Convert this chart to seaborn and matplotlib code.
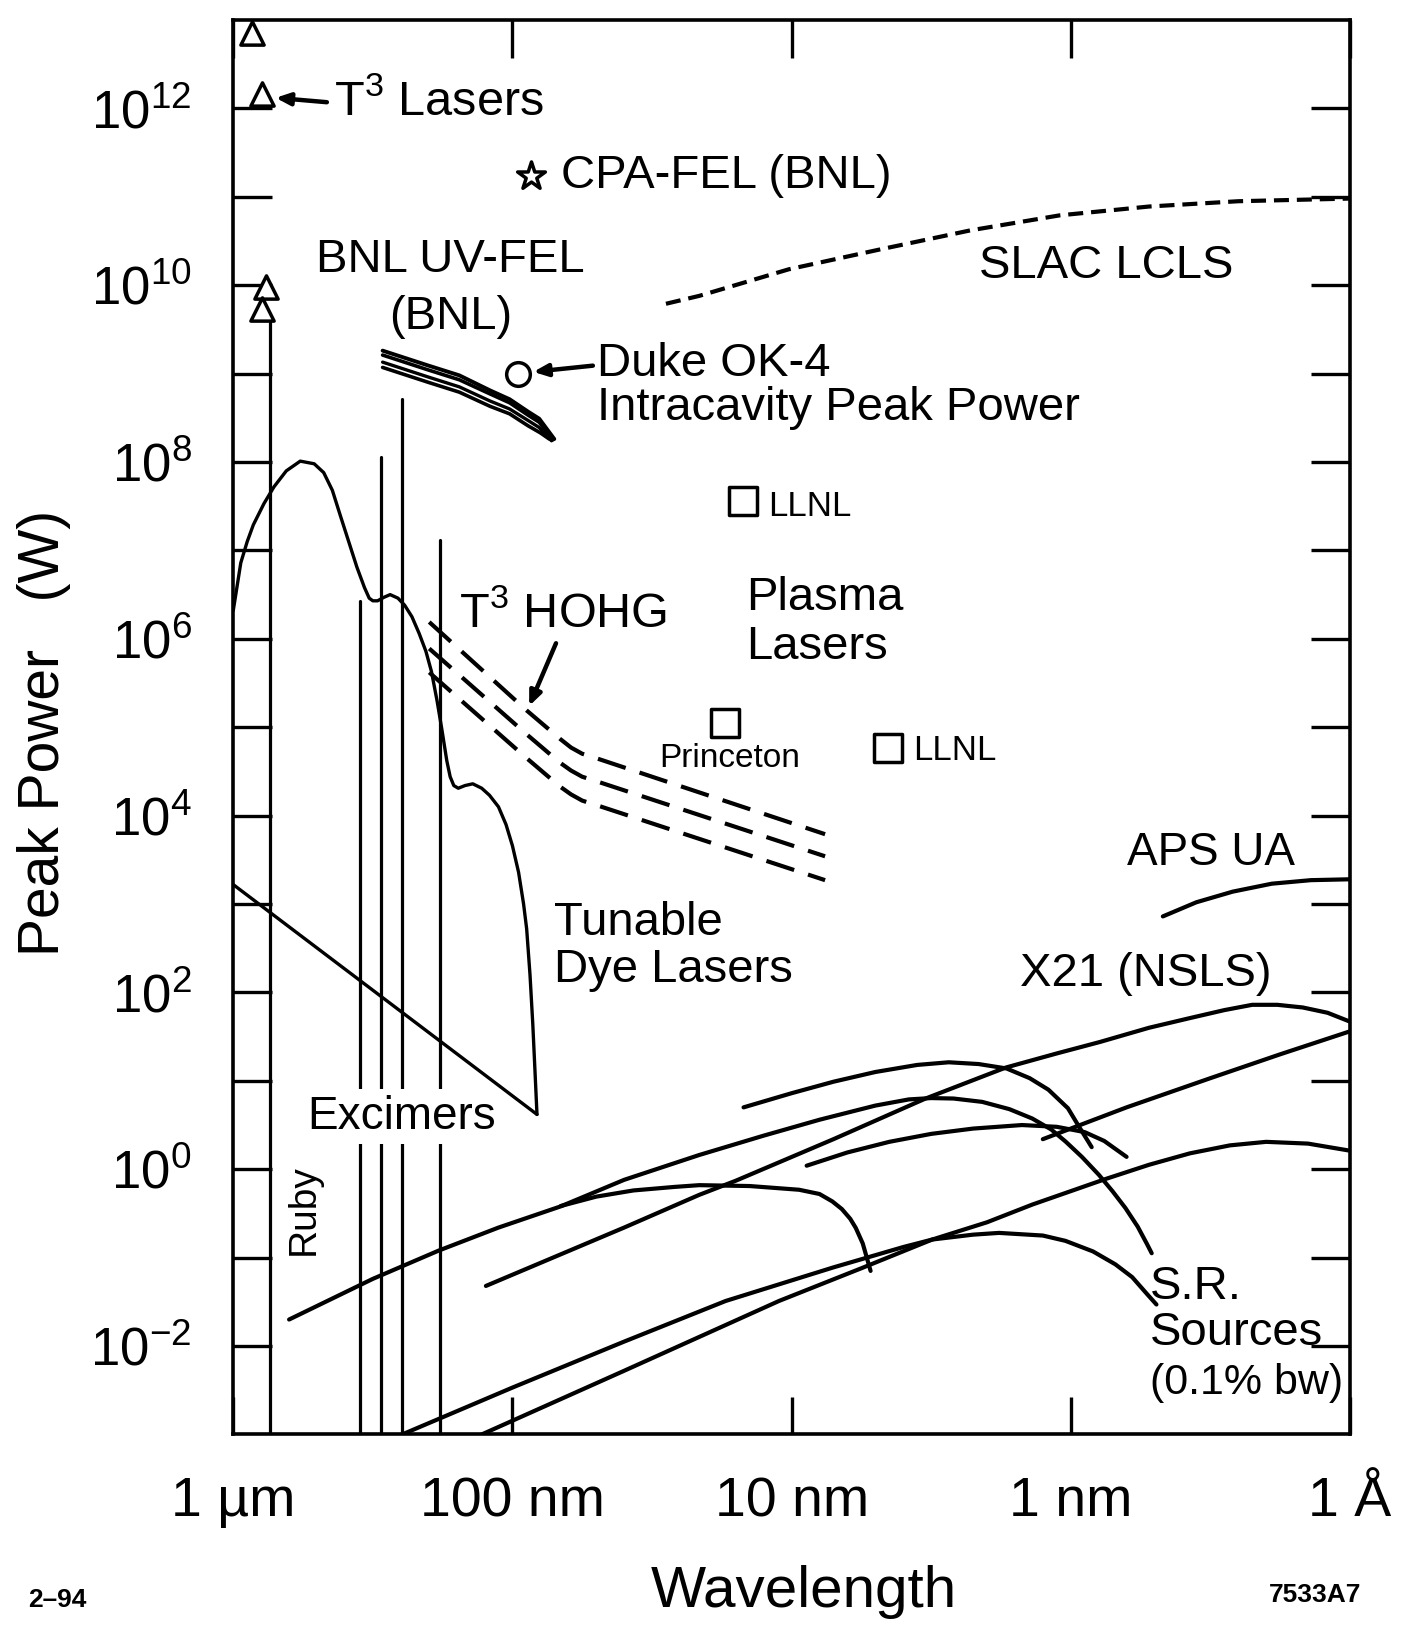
import numpy as np
import pandas as pd
import matplotlib
matplotlib.use("Agg")
import matplotlib.pyplot as plt
from matplotlib.ticker import FixedLocator, NullFormatter, NullLocator
import seaborn as sns

# ---------------- data (log10 of wavelength in nm, log10 of peak power in W) ----------------
# Tunable dye lasers envelope
dye_log_wl = [3.0, 2.985, 2.973, 2.95, 2.928, 2.89, 2.854, 2.81, 2.76, 2.71, 2.676, 2.645, 2.617,
              2.557, 2.53, 2.513, 2.50, 2.483, 2.46, 2.438, 2.41, 2.386, 2.36, 2.334, 2.31, 2.29,
              2.27, 2.253, 2.235, 2.223, 2.21, 2.194, 2.17, 2.142, 2.11, 2.082, 2.05, 2.023, 2.0,
              1.978, 1.96, 1.949, 1.937, 1.927, 1.919, 1.912]
dye_log_pw = [6.32, 6.62, 6.86, 7.10, 7.29, 7.53, 7.72, 7.90, 8.01, 7.98, 7.88, 7.68, 7.40,
              6.81, 6.58, 6.46, 6.43, 6.43, 6.47, 6.50, 6.46, 6.38, 6.25, 6.06, 5.86, 5.63,
              5.30, 4.98, 4.62, 4.44, 4.34, 4.31, 4.34, 4.36, 4.31, 4.23, 4.10, 3.90, 3.66,
              3.36, 3.00, 2.72, 2.20, 1.64, 1.10, 0.62]
# straight line closing the dye-laser region
diag_log_wl = [3.0, 1.912]
diag_log_pw = [3.22, 0.62]

# Excimer lines (nm) and their tops (log10 W)
excimer_wl = [351, 295, 248, 182]
excimer_top_log = [6.43, 8.06, 8.71, 7.12]
line_bottom_log = -3.1
# Ruby line
ruby_wl = 740
ruby_top_log = 9.59

# T3 lasers (triangles)
t3_wl = [855, 787, 764, 787]
t3_log_pw = [12.85, 12.16, 9.98, 9.73]

# CPA-FEL (star), Duke OK-4 (circle)
cpa_wl = [85.5]
cpa_log_pw = [11.24]
duke_wl = [95.8]
duke_log_pw = [9.0]

# Plasma lasers (squares): LLNL, Princeton, LLNL
plasma_wl = [14.9, 17.3, 4.5]
plasma_log_pw = [7.56, 5.05, 4.77]

# BNL UV-FEL bundle (4 lines)
bnl1_log_wl = [2.465, 2.30, 2.19, 2.08, 2.01, 1.944, 1.904, 1.85]
bnl1_log_pw = [9.26, 9.09, 8.98, 8.81, 8.71, 8.57, 8.49, 8.26]
bnl2_log_wl = [2.465, 2.30, 2.19, 2.08, 2.01, 1.944, 1.904, 1.855]
bnl2_log_pw = [9.21, 9.04, 8.93, 8.77, 8.67, 8.53, 8.45, 8.25]
bnl3_log_wl = [2.465, 2.30, 2.19, 2.08, 2.01, 1.944, 1.904, 1.86]
bnl3_log_pw = [9.13, 8.96, 8.85, 8.69, 8.60, 8.47, 8.39, 8.24]
bnl4_log_wl = [2.465, 2.30, 2.19, 2.08, 2.01, 1.944, 1.90, 1.868]
bnl4_log_pw = [9.07, 8.90, 8.79, 8.63, 8.545, 8.41, 8.33, 8.26]

# SLAC LCLS (dashed)
lcls_log_wl = [1.45, 1.33, 1.01, 0.69, 0.36, 0.04, -0.28, -0.60, -1.0]
lcls_log_pw = [9.79, 9.88, 10.18, 10.40, 10.62, 10.79, 10.89, 10.95, 10.98]

# T3 HOHG (three dashed lines)
hohg_log_wl = [2.298, 1.949, 1.83, 1.79, 1.75, 1.70, 0.88]
hohg1_log_pw = [6.19, 5.19, 4.87, 4.77, 4.70, 4.65, 3.79]
hohg2_log_pw = [5.89, 4.92, 4.60, 4.51, 4.44, 4.39, 3.54]
hohg3_log_pw = [5.62, 4.65, 4.33, 4.24, 4.17, 4.12, 3.27]

# APS UA
aps_log_wl = [-0.33, -0.45, -0.58, -0.72, -0.86, -1.0]
aps_log_pw = [2.86, 3.02, 3.14, 3.23, 3.27, 3.28]

# Synchrotron radiation sources (0.1% bw)
sr1_log_wl = [2.80, 2.50, 2.264, 2.05, 1.827, 1.60, 1.331, 1.10, 0.90, 0.70, 0.58, 0.50, 0.42,
              0.317, 0.22, 0.138, 0.07, 0.018, -0.04, -0.101, -0.15, -0.196, -0.24, -0.274, -0.29]
sr1_log_pw = [-1.70, -1.24, -0.92, -0.66, -0.42, -0.12, 0.161, 0.38, 0.56, 0.72, 0.79, 0.805, 0.80,
              0.762, 0.68, 0.574, 0.45, 0.312, 0.14, -0.064, -0.25, -0.439, -0.65, -0.851, -0.95]
sr2_log_wl = [1.827, 1.70, 1.567, 1.42, 1.331, 1.15, 0.973, 0.90, 0.854, 0.82, 0.79, 0.77, 0.745, 0.717]
sr2_log_pw = [-0.416, -0.31, -0.24, -0.20, -0.18, -0.19, -0.232, -0.28, -0.364, -0.45, -0.56, -0.664, -0.84, -1.15]
sr3_log_wl = [1.172, 1.0, 0.85, 0.70, 0.55, 0.437, 0.33, 0.23, 0.147, 0.08, 0.01, -0.03, -0.075]
sr3_log_pw = [0.70, 0.86, 0.99, 1.10, 1.18, 1.21, 1.19, 1.14, 1.03, 0.90, 0.69, 0.48, 0.25]
sr4_log_wl = [0.946, 0.80, 0.65, 0.50, 0.35, 0.175, 0.05, -0.05, -0.12, -0.2]
sr4_log_pw = [0.04, 0.19, 0.31, 0.40, 0.46, 0.50, 0.48, 0.42, 0.32, 0.14]
sr5_log_wl = [0.10, -0.20, -0.50, -0.75, -1.0]
sr5_log_pw = [0.34, 0.70, 1.03, 1.30, 1.56]
sr6_log_wl = [2.095, 1.6, 1.331, 1.2, 0.85, 0.52, 0.233, 0.05, -0.105, -0.28, -0.427, -0.55, -0.65,
              -0.74, -0.831, -0.92, -1.0]
sr6_log_pw = [-1.32, -0.66, -0.29, -0.13, 0.34, 0.80, 1.15, 1.31, 1.44, 1.60, 1.71, 1.80, 1.86,
              1.86, 1.83, 1.77, 1.67]
sr7_log_wl = [2.41, 2.0, 1.6, 1.236, 0.85, 0.60, 0.496, 0.35, 0.257, 0.10, 0.019, -0.08, -0.16,
              -0.22, -0.274, -0.307]
sr7_log_pw = [-3.02, -2.47, -1.95, -1.49, -1.11, -0.88, -0.795, -0.74, -0.72, -0.75, -0.81, -0.93,
              -1.076, -1.22, -1.414, -1.53]
sr8_log_wl = [2.11, 1.6, 1.045, 0.75, 0.496, 0.30, 0.138, -0.125, -0.28, -0.427, -0.57, -0.70, -0.85, -1.0]
sr8_log_pw = [-3.0, -2.28, -1.49, -1.12, -0.795, -0.60, -0.40, -0.11, 0.05, 0.18, 0.27, 0.31, 0.29, 0.21]

# axis ticks
x_ticks = [1000, 100, 10, 1, 0.1]
x_tick_labels = ["1 \u00b5m", "100 nm", "10 nm", "1 nm", "1 \u00c5"]
y_major_exp = [-2, 0, 2, 4, 6, 8, 10, 12]
y_minor_exp = [-1, 1, 3, 5, 7, 9, 11]

# ---------------- style ----------------
sns.set_theme(style="white")
plt.rcParams['font.family'] = ['Liberation Sans', 'DejaVu Sans']
plt.rcParams['mathtext.fontset'] = 'custom'
plt.rcParams['mathtext.rm'] = 'Liberation Sans'
plt.rcParams['mathtext.it'] = 'Liberation Sans:italic'
plt.rcParams['mathtext.bf'] = 'Liberation Sans:bold'
for key in ['text.color', 'axes.labelcolor', 'xtick.color', 'ytick.color', 'axes.edgecolor']:
    plt.rcParams[key] = 'black'

fig = plt.figure(figsize=(14.06, 16.26), dpi=100)
ax = fig.add_axes([0.1659, 0.1178, 0.7942, 0.8699])
ax.set_xscale('log')
ax.set_yscale('log')
ax.set_xlim(1000, 0.1)
ax.set_ylim(1e-3, 1e13)


def draw(log_wl, log_pw, lw=2.4, ls='-', z=2):
    df = pd.DataFrame({'wl': np.power(10.0, np.asarray(log_wl, float)),
                       'pw': np.power(10.0, np.asarray(log_pw, float))})
    sns.lineplot(data=df, x='wl', y='pw', sort=False, estimator=None, color='black',
                 linewidth=lw, linestyle=ls, ax=ax, legend=False, zorder=z)


# dye lasers
draw(dye_log_wl, dye_log_pw, lw=2.4)
draw(diag_log_wl, diag_log_pw, lw=2.4)
# excimer and ruby lines
for wl, top in zip(excimer_wl, excimer_top_log):
    draw([np.log10(wl)] * 2, [line_bottom_log, top], lw=2.3)
draw([np.log10(ruby_wl)] * 2, [line_bottom_log, ruby_top_log], lw=2.3)

# BNL bundle
for lw_, lp_, w in [(bnl1_log_wl, bnl1_log_pw, 2.8), (bnl2_log_wl, bnl2_log_pw, 2.6),
                    (bnl3_log_wl, bnl3_log_pw, 2.4), (bnl4_log_wl, bnl4_log_pw, 2.6)]:
    draw(lw_, lp_, lw=w)

# SLAC LCLS dashed
draw(lcls_log_wl, lcls_log_pw, lw=3.0, ls=(0, (3.6, 1.9)))

# HOHG dashed
for lp_ in [hohg1_log_pw, hohg2_log_pw, hohg3_log_pw]:
    draw(hohg_log_wl, lp_, lw=3.0, ls=(0, (7, 3.5)))

# APS UA
draw(aps_log_wl, aps_log_pw, lw=3.0)

# SR sources
for lw_, lp_ in [(sr1_log_wl, sr1_log_pw), (sr2_log_wl, sr2_log_pw), (sr3_log_wl, sr3_log_pw),
                 (sr4_log_wl, sr4_log_pw), (sr5_log_wl, sr5_log_pw), (sr6_log_wl, sr6_log_pw),
                 (sr7_log_wl, sr7_log_pw), (sr8_log_wl, sr8_log_pw)]:
    draw(lw_, lp_, lw=3.0)

# markers
mk = dict(color='white', edgecolor='black', linewidth=2.5, ax=ax, legend=False, zorder=5)
sns.scatterplot(x=t3_wl, y=np.power(10.0, t3_log_pw), marker='^', s=280, **mk)
sns.scatterplot(x=cpa_wl, y=np.power(10.0, cpa_log_pw), marker='*', s=440, **mk)
sns.scatterplot(x=duke_wl, y=np.power(10.0, duke_log_pw), marker='o', s=290, **mk)
sns.scatterplot(x=plasma_wl, y=np.power(10.0, plasma_log_pw), marker='s', s=430, **mk)

# ---------------- texts ----------------
F = 34
arrow = dict(arrowstyle='-|>,head_length=0.7,head_width=0.3', lw=3.2, color='black',
             shrinkA=0, shrinkB=0)


def t(x, logy, s, size=F, ha='left', **kw):
    ax.text(x, 10 ** logy, s, fontsize=size, ha=ha, va='center', **kw)


t(437, 12.07, r"T$^{3}$ Lasers", size=35)
ax.annotate("", xy=(705, 10 ** 12.12), xytext=(462, 10 ** 12.07), arrowprops=arrow,
            annotation_clip=False)
t(66.9, 11.24, "CPA-FEL (BNL)")
t(167, 10.28, "BNL UV-FEL", ha='center')
t(167, 9.64, "(BNL)", ha='center')
t(49.6, 9.114, "Duke OK-4")
t(49.6, 8.613, "Intracavity Peak Power")
ax.annotate("", xy=(84.2, 10 ** 9.02), xytext=(51.5, 10 ** 9.09), arrowprops=arrow)
t(2.13, 10.22, "SLAC LCLS")
t(12.1, 7.50, "LLNL", size=25)
t(14.6, 6.466, "Plasma")
t(14.6, 5.905, "Lasers")
t(16.6, 4.645, "Princeton", size=24, ha='center')
t(3.66, 4.739, "LLNL", size=25)
t(156, 6.279, r"T$^{3}$ HOHG", size=35)
ax.annotate("", xy=(87.1, 10 ** 5.24), xytext=(69.8, 10 ** 5.95), arrowprops=arrow)
t(71, 2.78, "Tunable")
t(71, 2.253, "Dye Lasers")
t(0.629, 3.572, "APS UA", size=33)
t(1.52, 2.207, "X21 (NSLS)")
t(543, 0.596, "Excimers", size=33, zorder=6,
  bbox=dict(facecolor='white', edgecolor='none', pad=4))
ax.text(561, 10 ** -0.454, "Ruby", fontsize=28, rotation=90, ha='center', va='center')
t(0.521, -1.329, "S.R.")
t(0.521, -1.854, "Sources")
t(0.521, -2.414, "(0.1% bw)", size=31)

# ---------------- axes ----------------
ax.set_xticks(x_ticks)
ax.set_xticklabels(x_tick_labels)
ax.xaxis.set_minor_locator(NullLocator())
ax.set_yticks([10.0 ** e for e in y_major_exp])
ax.set_yticklabels([r"$10^{%d}$" % e for e in y_major_exp])
ax.yaxis.set_minor_locator(FixedLocator([10.0 ** e for e in y_minor_exp]))
ax.yaxis.set_minor_formatter(NullFormatter())
ax.tick_params(axis='both', which='both', direction='in', top=True, right=True,
               bottom=True, left=True, width=2.4, color='black', labelcolor='black')
ax.tick_params(axis='y', which='both', length=28)
ax.tick_params(axis='x', which='both', length=27)
ax.tick_params(axis='y', labelsize=38, pad=30)
ax.tick_params(axis='x', labelsize=40, pad=30)
for sp in ax.spines.values():
    sp.set_linewidth(2.6)
    sp.set_color('black')
ax.set_xlabel("")
ax.set_ylabel("")
ax.grid(False)

fig.text(0.031, 0.549, "Peak Power   (W)", rotation=90, ha='center', va='center', fontsize=41)
fig.text(0.5716, 0.021, "Wavelength", ha='center', va='center', fontsize=42)
fig.text(0.0405, 0.016, "2\u201394", ha='center', va='center', fontsize=19, fontweight='bold')
fig.text(0.935, 0.019, "7533A7", ha='center', va='center', fontsize=19, fontweight='bold')

fig.savefig("out.png", dpi=100)
